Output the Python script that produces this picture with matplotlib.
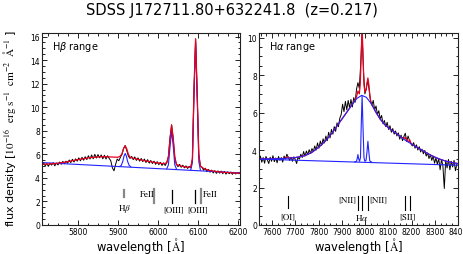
import numpy as np
import matplotlib
matplotlib.use("Agg")
import matplotlib.pyplot as plt
from matplotlib.ticker import MultipleLocator

# ---------------- data ----------------
title = "SDSS J172711.80+632241.8  (z=0.217)"

# H-beta range: observed spectrum (4 A grid)
hb_wl = np.arange(5710, 6207, 4)
hb_flux = [5.15, 5.28, 5.02, 5.22, 4.98, 5.25, 5.08, 5.30, 5.02, 5.26,
           5.10, 5.35, 5.15, 5.40, 5.20, 5.42,
           5.25, 5.52, 5.30, 5.58, 5.35, 5.62, 5.42, 5.70, 5.45, 5.75,
           5.50, 5.80,
           5.55, 5.88, 5.60, 5.95, 5.62, 6.00, 5.68, 5.98, 5.70, 5.95,
           5.62, 5.92, 5.60, 5.88, 5.65, 5.45,
           4.85, 4.60, 5.15, 5.60, 5.45, 5.75, 6.00, 6.50, 6.75, 6.30,
           5.85, 5.65,
           5.82, 5.55, 5.78, 5.48, 5.70, 5.42, 5.65, 5.38, 5.60, 5.30,
           5.55, 5.25, 5.48, 5.22, 5.42, 5.15, 5.38, 5.12, 5.32, 5.05,
           5.28, 5.05,
           5.30, 5.80, 7.40, 8.50, 7.30, 5.70, 5.15,
           4.95, 5.15, 4.90, 5.08, 4.85, 5.02, 4.80, 4.98, 4.85,
           5.60, 11.5, 15.8, 11.0, 6.00, 5.00,
           4.90, 4.65, 4.82, 4.52, 4.72, 4.48, 4.66, 4.42, 4.62, 4.38,
           4.60, 4.40, 4.58, 4.36, 4.55, 4.32, 4.52, 4.35, 4.50, 4.30,
           4.48, 4.33, 4.46, 4.35, 4.42]
# H-beta range: total model (red)
hb_model_wl = [5710, 5740, 5770, 5800, 5830, 5860, 5880, 5900, 5906, 5910,
               5914, 5918, 5922, 5926, 5930, 5940, 5960, 5980, 6000, 6015,
               6022, 6026, 6030, 6034, 6038, 6042, 6046, 6055, 6070, 6082,
               6086, 6090, 6094, 6098, 6102, 6106, 6115, 6130, 6150, 6170,
               6190, 6206]
hb_model = [5.15, 5.20, 5.35, 5.55, 5.72, 5.80, 5.78, 5.75, 5.85, 6.05,
            6.50, 6.72, 6.45, 6.00, 5.75, 5.65, 5.50, 5.38, 5.27, 5.20,
            5.30, 5.80, 7.30, 8.50, 7.40, 5.80, 5.15, 5.02, 4.92, 4.92,
            5.60, 11.6, 15.8, 11.2, 6.00, 5.00, 4.78, 4.62, 4.52, 4.46,
            4.42, 4.40]
# H-beta range: continuum and narrow components (blue)
hb_cont_wl = [5710, 6206]
hb_cont = [5.30, 4.42]
hb_comp_wl = [[5904, 5908, 5912, 5915, 5918, 5921, 5924, 5928, 5932],
              [6022, 6026, 6030, 6034, 6038, 6042, 6046],
              [6082, 6086, 6090, 6094, 6098, 6102, 6106]]
hb_comp = [[4.97, 5.05, 5.40, 5.85, 6.07, 5.85, 5.40, 5.05, 4.95],
           [4.78, 5.10, 6.60, 8.00, 6.70, 5.10, 4.77],
           [4.68, 5.30, 11.0, 15.5, 10.8, 5.40, 4.66]]

# H-alpha range: observed spectrum (6 A grid)
ha_wl = np.arange(7543, 8400, 6)
ha_flux = [3.42, 3.68, 3.35, 3.60, 3.30, 3.66, 3.48, 3.28, 3.62, 3.40,
           3.70, 3.38, 3.58, 3.32, 3.66, 3.45, 3.60, 3.36, 3.68, 3.52,
           3.78, 3.62, 3.45, 3.62, 3.40, 3.64, 3.50, 3.28, 3.62, 3.52,
           3.78, 3.60, 3.92, 3.68, 3.95, 3.75, 4.02, 3.82, 4.08, 3.92,
           4.22, 4.00, 4.38, 4.10, 4.48, 4.25, 4.60, 4.38, 4.75, 4.50,
           4.95, 4.65, 5.10, 4.85, 5.25, 5.00, 5.45, 5.25, 5.70, 5.90,
           6.45, 6.05, 6.60, 6.15, 6.65, 6.25, 6.70, 6.30, 6.80, 6.55,
           7.25, 7.60, 7.30, 8.60, 10.3, 8.20, 7.00, 7.25, 7.75, 7.25,
           6.65, 6.40, 6.65, 6.15, 6.35, 5.90, 6.10, 5.65, 5.85, 5.40,
           5.58, 5.25, 5.48, 5.10, 5.30, 4.95, 5.15, 4.85, 5.02, 4.75,
           4.92, 4.58, 4.80, 4.50, 4.72, 4.90, 4.45, 4.75, 4.52, 4.35,
           4.22, 4.40, 4.10, 4.28, 4.00, 4.18, 3.90, 4.05, 3.80, 3.98,
           3.68, 3.85, 3.55, 3.75, 3.45, 3.68, 3.30, 3.58, 3.25, 3.55,
           2.95, 3.50, 3.15, 1.95, 3.45, 3.05, 3.50, 2.95, 3.40, 3.10,
           3.45, 2.90, 3.25]
# H-alpha range: total model (red)
ha_model_wl = [7543, 7600, 7650, 7660, 7667, 7675, 7700, 7740, 7770, 7800,
               7830, 7860, 7890, 7920, 7945, 7958, 7963, 7969, 7975, 7979,
               7983, 7987, 7991, 7995, 7999, 8004, 8008, 8012, 8016, 8021,
               8025, 8045, 8065, 8085, 8110, 8140, 8160, 8170, 8173, 8180,
               8188, 8192, 8198, 8230, 8260, 8290, 8320, 8350, 8380, 8400]
ha_model = [3.52, 3.53, 3.55, 3.60, 3.63, 3.58, 3.60, 3.70, 3.87, 4.15,
            4.50, 4.95, 5.48, 6.00, 6.45, 6.70, 6.85, 7.15, 7.00, 7.50,
            9.00, 10.6, 9.00, 7.50, 7.10, 7.25, 7.55, 7.85, 7.50, 6.85,
            6.55, 6.05, 5.65, 5.35, 5.10, 4.84, 4.65, 4.63, 4.68, 4.50,
            4.45, 4.55, 4.35, 4.10, 3.88, 3.68, 3.52, 3.40, 3.32, 3.28]
# H-alpha range: continuum, broad and narrow components (blue)
ha_cont_wl = [7543, 8400]
ha_cont = [3.52, 3.19]
ha_broad_wl = [7543, 7600, 7650, 7700, 7740, 7770, 7800, 7830, 7860, 7890,
               7920, 7945, 7965, 7985, 8005, 8025, 8045, 8065, 8085, 8110,
               8140, 8170, 8200, 8230, 8260, 8290, 8320, 8350, 8380, 8400]
ha_broad = [3.52, 3.53, 3.55, 3.60, 3.70, 3.87, 4.15, 4.50, 4.95, 5.48,
            6.00, 6.45, 6.76, 6.92, 6.82, 6.50, 6.05, 5.65, 5.35, 5.10,
            4.84, 4.55, 4.32, 4.10, 3.88, 3.68, 3.52, 3.40, 3.32, 3.28]
ha_narrow_wl = [7955, 7963, 7966, 7969, 7972, 7976, 7980, 7983, 7987, 7991,
                7995, 7999, 8004, 8008, 8012, 8016, 8020, 8028]
ha_narrow = [3.37, 3.40, 3.55, 3.76, 3.55, 3.40, 3.60, 5.20, 6.90, 5.20,
             3.60, 3.40, 3.45, 3.90, 4.47, 3.90, 3.42, 3.36]

# line identification marks
hb_marks = [5916, 5991, 6036, 6093, 6107]
hb_mark_y = [(2.41, 2.97), (1.84, 3.05), (1.84, 2.97), (1.84, 2.97), (1.84, 3.05)]
ha_marks = [7667, 7969, 7987, 8012, 8173, 8192]
ha_mark_y = [(0.92, 1.54), (0.80, 1.54), (0.80, 1.54), (0.80, 1.54),
             (0.80, 1.54), (0.80, 1.54)]

# ---------------- figure ----------------
W, H = 463, 255
fig = plt.figure(figsize=(W / 100, H / 100), dpi=100)
ax1 = fig.add_axes([42 / W, 1 - 226 / H, 198 / W, 192 / H])
ax2 = fig.add_axes([259 / W, 1 - 226 / H, 199 / W, 192 / H])

RED = "#e8001c"
BLUE = "#2222ff"
serif = dict(fontfamily="STIXGeneral", math_fontfamily="stix", fontsize=6.5)

# left panel
ax1.plot(hb_wl, hb_flux, color="black", lw=0.7)
ax1.plot(hb_cont_wl, hb_cont, color=BLUE, lw=0.8)
for cw, cf in zip(hb_comp_wl, hb_comp):
    ax1.plot(cw, cf, color=BLUE, lw=0.8)
ax1.plot(hb_model_wl, hb_model, color=RED, lw=0.9)

mark_styles = [("#888888", 1.6), ("#888888", 1.6), ("black", 0.9),
               ("black", 0.9), ("#888888", 1.6)]
for x, (y0, y1), (c, lw) in zip(hb_marks, hb_mark_y, mark_styles):
    ax1.plot([x, x], [y0, y1], color=c, lw=lw)
ax1.text(5916, 1.47, r"H$\beta$", ha="center", va="center", **serif)
ax1.text(5972, 2.6, "FeII", ha="center", va="center", **serif)
ax1.text(6040, 1.36, "[OIII]", ha="center", va="center", **serif)
ax1.text(6098, 1.36, "[OIII]", ha="center", va="center", **serif)
ax1.text(6130, 2.6, "FeII", ha="center", va="center", **serif)
ax1.text(0.05, 0.93, r"H$\beta$ range", transform=ax1.transAxes,
         ha="left", va="center", fontsize=7)

ax1.set_xlim(5710, 6205)
ax1.set_ylim(0, 16.3)
ax1.xaxis.set_major_locator(MultipleLocator(100))
ax1.xaxis.set_minor_locator(MultipleLocator(25))
ax1.yaxis.set_major_locator(MultipleLocator(2))
ax1.yaxis.set_minor_locator(MultipleLocator(0.5))

# right panel
ax2.plot(ha_wl, ha_flux, color="black", lw=0.7)
ax2.plot(ha_model_wl, ha_model, color=RED, lw=0.9)
ax2.plot(ha_cont_wl, ha_cont, color=BLUE, lw=0.8)
ax2.plot(ha_broad_wl, ha_broad, color=BLUE, lw=0.8)
ax2.plot(ha_narrow_wl, ha_narrow, color=BLUE, lw=0.8)
for x, (y0, y1) in zip(ha_marks, ha_mark_y):
    ax2.plot([x, x], [y0, y1], color="black", lw=0.8)
ax2.text(7667, 0.44, "[OI]", ha="center", va="center", **serif)
ax2.text(7962, 1.36, "[NII]", ha="right", va="center", **serif)
ax2.text(8018, 1.36, "[NII]", ha="left", va="center", **serif)
ax2.text(7987, 0.44, r"H$\alpha$", ha="center", va="center", **serif)
ax2.text(8183, 0.44, "[SII]", ha="center", va="center", **serif)
ax2.text(0.05, 0.93, r"H$\alpha$ range", transform=ax2.transAxes,
         ha="left", va="center", fontsize=7)

ax2.set_xlim(7543, 8400)
ax2.set_ylim(0, 10.25)
ax2.xaxis.set_major_locator(MultipleLocator(100))
ax2.xaxis.set_minor_locator(MultipleLocator(25))
ax2.yaxis.set_major_locator(MultipleLocator(2))
ax2.yaxis.set_minor_locator(MultipleLocator(0.5))

for ax in (ax1, ax2):
    ax.tick_params(which="both", direction="in", top=True, right=True,
                   labelsize=5.5, pad=1.5, width=0.7, color="#222222")
    ax.tick_params(which="major", length=3.5)
    ax.tick_params(which="minor", length=1.8)
    for s in ax.spines.values():
        s.set_linewidth(0.8)
        s.set_color("#222222")

fig.text(232 / W, 1 - 10 / H, title, ha="center", va="center", fontsize=10.5)
fig.text(141 / W, 1 - 246 / H, r"wavelength [$\mathrm{\AA}$]", ha="center",
         va="center", fontsize=8.3, math_fontfamily="stix")
fig.text(358.7 / W, 1 - 246 / H, r"wavelength [$\mathrm{\AA}$]", ha="center",
         va="center", fontsize=8.3, math_fontfamily="stix")
fig.text(10 / W, 1 - 128 / H,
         r"flux density [$10^{-16}$  $\mathrm{erg\ s^{-1}\ \ cm^{-2}\ \ \AA^{-1}}$ ]",
         ha="center", va="center", rotation=90, fontsize=8,
         math_fontfamily="stix")

fig.savefig("out.png", dpi=100)
